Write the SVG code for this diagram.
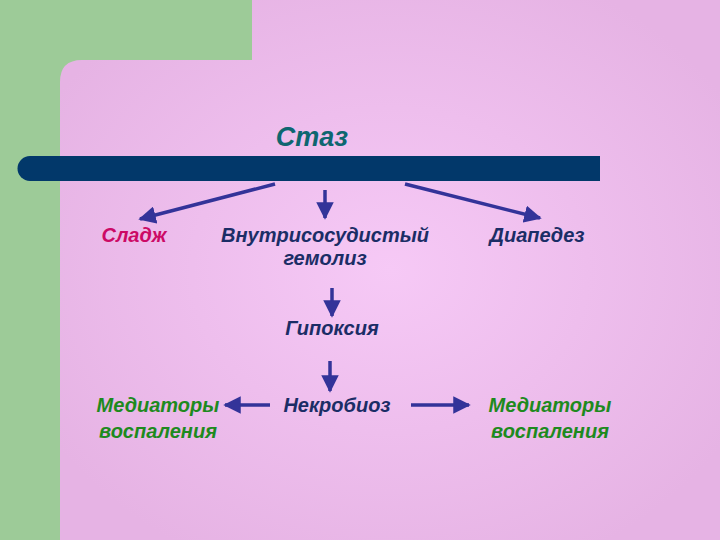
<svg xmlns="http://www.w3.org/2000/svg" width="720" height="540" viewBox="0 0 720 540">
<defs>
<radialGradient id="bg" cx="0.5" cy="0.5" r="0.6">
<stop offset="0" stop-color="#f6c9f6"/>
<stop offset="1" stop-color="#e6b3e4"/>
</radialGradient>
<marker id="ah" viewBox="0 0 10 10" refX="9" refY="5" markerWidth="5" markerHeight="5" orient="auto" markerUnits="strokeWidth">
<path d="M0,0 L10,5 L0,10 z" fill="#333399"/>
</marker>
<style>
.t{font-family:"Liberation Sans",Arial,sans-serif;font-weight:bold;font-style:italic;font-size:20px;text-anchor:middle}
.n{fill:#1b2d66}
.g{fill:#1e8a1e}
.c{stroke:#333399;stroke-width:3.5;fill:none;marker-end:url(#ah)}
</style>
</defs>
<rect x="0" y="0" width="720" height="540" fill="#9dcb98"/>
<path d="M252,0 H720 V540 H60 V82 Q60,60 82,60 H252 Z" fill="url(#bg)"/>
<g id="title"><text class="t" x="312" y="146" style="font-size:27px" fill="#0e6670">Стаз</text></g>
<path id="bar" d="M30,156 H600 V181 H30 A12.5,12.5 0 0 1 30,156 Z" fill="#02386a"/>
<g id="connectors">
<line class="c" x1="275" y1="184" x2="140" y2="219"/>
<line class="c" x1="325" y1="190" x2="325" y2="218"/>
<line class="c" x1="405" y1="184" x2="540" y2="218"/>
<line class="c" x1="332" y1="288" x2="332" y2="316"/>
<line class="c" x1="330" y1="361" x2="330" y2="391"/>
<line class="c" x1="270" y1="405" x2="225" y2="405"/>
<line class="c" x1="411" y1="405" x2="469" y2="405"/>
</g>
<g id="sladzh"><text class="t" x="134" y="242" fill="#cc0a66">Сладж</text></g>
<g id="gemoliz"><text class="t n" x="325" y="242">Внутрисосудистый</text><text class="t n" x="325" y="265">гемолиз</text></g>
<g id="diapedez"><text class="t n" x="537" y="242">Диапедез</text></g>
<g id="gipoksiya"><text class="t n" x="332" y="335">Гипоксия</text></g>
<g id="nekrobioz"><text class="t n" x="337" y="412">Некробиоз</text></g>
<g id="med1"><text class="t g" x="158" y="412">Медиаторы</text><text class="t g" x="158" y="438">воспаления</text></g>
<g id="med2"><text class="t g" x="550" y="412">Медиаторы</text><text class="t g" x="550" y="438">воспаления</text></g>
</svg>
